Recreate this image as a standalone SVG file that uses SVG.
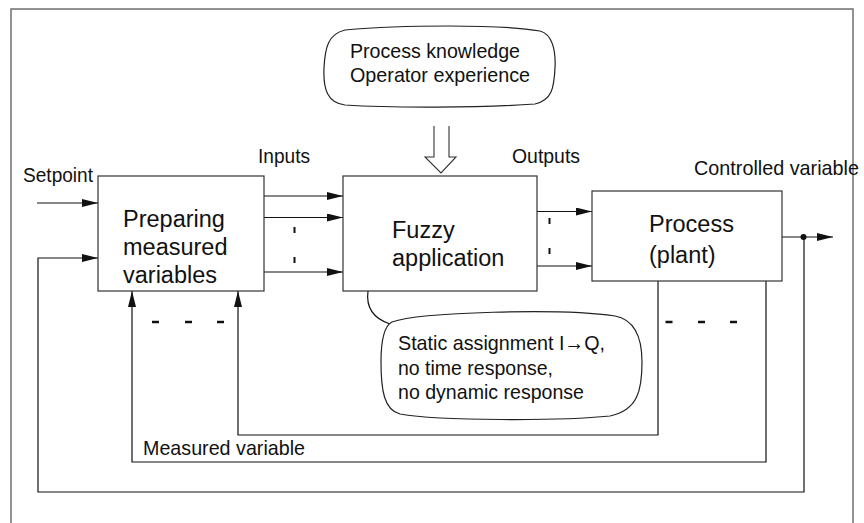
<svg xmlns="http://www.w3.org/2000/svg" width="864" height="523" viewBox="0 0 864 523">
<defs>
<style>
.frame{fill:none;stroke:#6e6e6e;stroke-width:1.5}
.box{fill:#fff;stroke:#333;stroke-width:1.2}
.ln{fill:none;stroke:#111;stroke-width:1.2}
.arr{fill:none;stroke:#111;stroke-width:1.2;marker-end:url(#ah)}
.dash{stroke:#111;stroke-width:2.5}
.tick{stroke:#111;stroke-width:2}
.lbl{font-family:"Liberation Sans",Arial,sans-serif;font-size:21px;fill:#111}
.big{font-family:"Liberation Sans",Arial,sans-serif;font-size:23.5px;fill:#111}
.bub{fill:#fff;stroke:#222;stroke-width:1.2}
</style>
<marker id="ah" markerWidth="16" markerHeight="8" refX="16" refY="4" orient="auto" markerUnits="userSpaceOnUse">
<path d="M0,0 L16,4 L0,8 Z" fill="#111"/>
</marker>
</defs>
<rect width="864" height="523" fill="#fff"/>
<rect class="frame" x="11" y="9" width="842" height="530"/>

<g id="connectors">
<line class="arr" x1="37" y1="203" x2="98" y2="203"/>
<polyline class="arr" points="804,237 804,492 38,492 38,258 98,258"/>
<line class="arr" x1="264" y1="196" x2="343" y2="196"/>
<line class="arr" x1="264" y1="217.5" x2="343" y2="217.5"/>
<line class="arr" x1="264" y1="272" x2="343" y2="272"/>
<line class="tick" x1="294.5" y1="227" x2="294.5" y2="233"/>
<line class="tick" x1="294.5" y1="257" x2="294.5" y2="263"/>
<line class="arr" x1="537" y1="211.5" x2="592" y2="211.5"/>
<line class="arr" x1="537" y1="266" x2="592" y2="266"/>
<line class="tick" x1="549.5" y1="218" x2="549.5" y2="224"/>
<line class="tick" x1="549.5" y1="248" x2="549.5" y2="254"/>
<line class="arr" x1="782" y1="237" x2="833" y2="237"/>
<circle cx="803.5" cy="237" r="3" fill="#111"/>
<polyline class="arr" points="766,281 766,462 132,462 132,291"/>
<polyline class="arr" points="658,281 658,435 238,435 238,291"/>
<line class="dash" x1="152" y1="322" x2="159" y2="322"/>
<line class="dash" x1="185" y1="322" x2="192" y2="322"/>
<line class="dash" x1="217" y1="322" x2="224" y2="322"/>
<line class="dash" x1="665.5" y1="322" x2="672.5" y2="322"/>
<line class="dash" x1="698" y1="322" x2="705" y2="322"/>
<line class="dash" x1="730" y1="322" x2="737" y2="322"/>
<polyline fill="#fff" stroke="#333" stroke-width="1.1" points="434,126 434,157 425,157 441,173 456,157 449,157 449,126"/>
<path class="ln" d="M368,291 C366,306 372,318 390,324"/>
</g>

<g id="knowledge">
<path class="bub" d="M345,30 C400,25 500,24 540,31 C552,34 556,50 555,68 C554,88 552,100 535,104 C480,108 390,108 345,105 C328,103 323,90 324,68 C325,48 328,34 345,30 Z"/>
<text class="lbl" x="350" y="58" textLength="170" lengthAdjust="spacingAndGlyphs">Process knowledge</text>
<text class="lbl" x="350" y="82" textLength="180" lengthAdjust="spacingAndGlyphs">Operator experience</text>
</g>

<g id="preparing">
<rect class="box" x="98" y="176" width="166" height="115"/>
<text class="big" x="123" y="227">Preparing</text>
<text class="big" x="123" y="255">measured</text>
<text class="big" x="123" y="283">variables</text>
</g>

<g id="fuzzy">
<rect class="box" x="343" y="176" width="194" height="115"/>
<text class="big" x="392" y="238">Fuzzy</text>
<text class="big" x="392" y="266">application</text>
</g>

<g id="process">
<rect class="box" x="592" y="191" width="190" height="90"/>
<text class="big" x="649" y="232">Process</text>
<text class="big" x="649" y="263">(plant)</text>
</g>

<g id="static">
<path class="bub" d="M392,322 C420,312 560,308 615,316 C636,320 642,340 642,362 C642,390 638,410 610,416 C560,421 440,421 400,414 C384,410 381,390 381,362 C381,340 384,326 392,322 Z"/>
<text class="lbl" x="398" y="350" textLength="207" lengthAdjust="spacingAndGlyphs">Static assignment I→Q,</text>
<text class="lbl" x="398" y="374.5" textLength="155" lengthAdjust="spacingAndGlyphs">no time response,</text>
<text class="lbl" x="398" y="399" textLength="186" lengthAdjust="spacingAndGlyphs">no dynamic response</text>
</g>

<g id="labels">
<text class="lbl" x="23" y="182" textLength="70" lengthAdjust="spacingAndGlyphs">Setpoint</text>
<text class="lbl" x="258" y="163" textLength="52" lengthAdjust="spacingAndGlyphs">Inputs</text>
<text class="lbl" x="512" y="163" textLength="68" lengthAdjust="spacingAndGlyphs">Outputs</text>
<text class="lbl" x="694" y="175" textLength="165" lengthAdjust="spacingAndGlyphs">Controlled variable</text>
<text class="lbl" x="143" y="455" textLength="162" lengthAdjust="spacingAndGlyphs">Measured variable</text>
</g>
</svg>
